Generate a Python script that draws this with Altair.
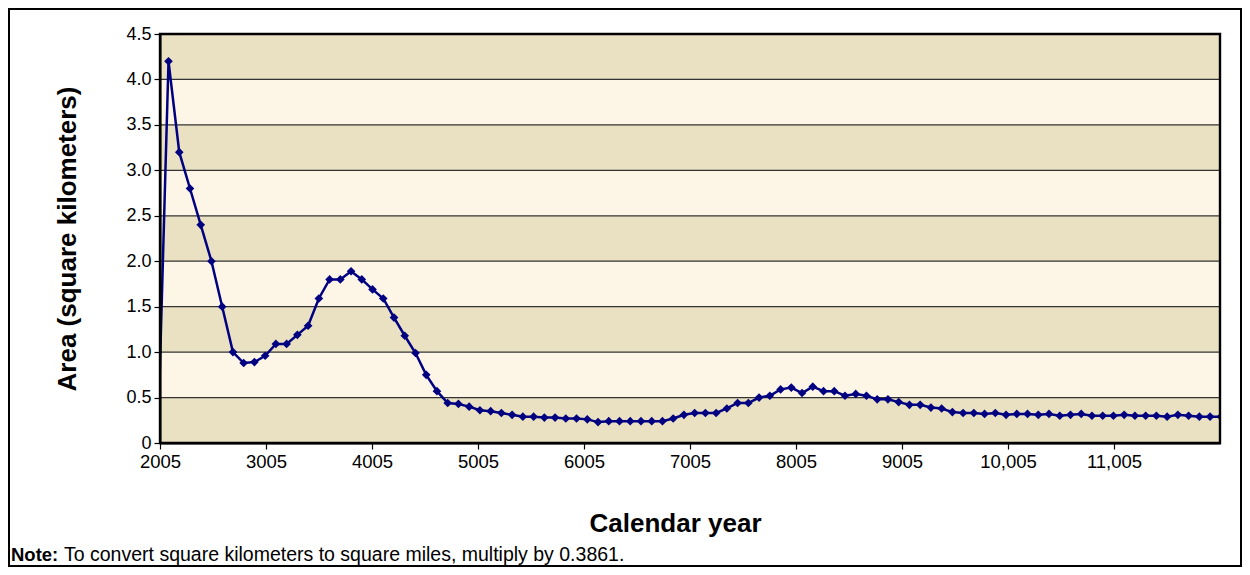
import altair as alt
import pandas as pd

# ---- data ----
area_km2 = [0.0, 4.2, 3.2, 2.8, 2.4, 2.0, 1.5, 1.0, 0.88, 0.89,
            0.96, 1.09, 1.09, 1.19, 1.29, 1.59, 1.80, 1.80, 1.89, 1.80,
            1.69, 1.59, 1.38, 1.18, 0.99, 0.75, 0.57, 0.44, 0.43, 0.40,
            0.36, 0.35, 0.33, 0.31, 0.29, 0.29, 0.28, 0.28, 0.27, 0.27,
            0.26, 0.23, 0.24, 0.24, 0.24, 0.24, 0.24, 0.24, 0.27, 0.31,
            0.33, 0.33, 0.33, 0.38, 0.44, 0.44, 0.50, 0.52, 0.59, 0.61,
            0.55, 0.62, 0.57, 0.57, 0.52, 0.54, 0.52, 0.48, 0.48, 0.45,
            0.42, 0.42, 0.39, 0.38, 0.34, 0.33, 0.33, 0.32, 0.33, 0.31,
            0.32, 0.32, 0.31, 0.32, 0.30, 0.31, 0.32, 0.30, 0.30, 0.30,
            0.31, 0.30, 0.30, 0.30, 0.29, 0.31, 0.30, 0.29, 0.29, 0.29]
year_start = 1984
year_step = 101.3
years = [year_start + year_step * i for i in range(len(area_km2))]

x_tick_years = [2005, 3005, 4005, 5005, 6005, 7005, 8005, 9005, 10005, 11005]
y_ticks = [0, 0.5, 1.0, 1.5, 2.0, 2.5, 3.0, 3.5, 4.0, 4.5]
band_lo = [0.0, 0.5, 1.0, 1.5, 2.0, 2.5, 3.0, 3.5, 4.0]
band_hi = [0.5, 1.0, 1.5, 2.0, 2.5, 3.0, 3.5, 4.0, 4.5]
band_colors = ["#E9E1C1", "#FDF6E7", "#E9E1C1", "#FDF6E7", "#E9E1C1",
               "#FDF6E7", "#E9E1C1", "#FDF6E7", "#E9E1C1"]

x_title = "Calendar year"
y_title = "Area (square kilometers)"
note_bold = "Note:"
note_text = "To convert square kilometers to square miles, multiply by 0.3861."

# ---- layout (canvas kept within 1234 x 559 so the page does not overflow) ----
W, H = 1060, 409
PAD = {"left": 152, "top": 26, "right": 22, "bottom": 124}
FONT = "Liberation Sans"
NAVY = "#000080"

series = pd.DataFrame({"year": years, "area": area_km2})
bands = pd.DataFrame({"lo": band_lo, "hi": band_hi, "color": band_colors})
grid = pd.DataFrame({"v": y_ticks[1:]})
one = pd.DataFrame({"k": [0]})

yscale = alt.Scale(domain=[0, 4.5], nice=False, zero=False)
xscale = alt.Scale(domain=[2005, 12005], nice=False, zero=False)

yaxis = alt.Axis(
    values=y_ticks,
    labelExpr="datum.value == 0 ? '0' : format(datum.value, '.1f')",
    grid=False, domainColor="black", domainWidth=2,
    tickColor="black", tickSize=6, tickWidth=1.2,
    labelFont=FONT, labelFontSize=18, labelColor="black", labelPadding=3,
    labelFlush=False,
    title=y_title, titleFont=FONT, titleFontSize=26, titleFontWeight="bold",
    titleColor="black", titleX=-93, titleY=H / 2, titleAngle=270,
    titleAlign="center", titleBaseline="middle", zindex=1,
)
xaxis = alt.Axis(
    values=x_tick_years,
    labelExpr="datum.value >= 10000 ? format(datum.value, ',') : format(datum.value, 'd')",
    grid=False, domainColor="black", domainWidth=2,
    tickColor="black", tickSize=6, tickWidth=1.2,
    labelFont=FONT, labelFontSize=18.5, labelColor="black", labelPadding=3,
    labelFlush=False,
    title=x_title, titleFont=FONT, titleFontSize=26, titleFontWeight="bold",
    titleColor="black", titleX=515, titleY=88, titleAlign="center",
    titleBaseline="alphabetic", zindex=1,
)

band_layer = alt.Chart(bands).mark_rect().encode(
    x=alt.value(0), x2=alt.value(W),
    y=alt.Y("lo:Q", scale=yscale, axis=yaxis), y2="hi:Q",
    color=alt.Color("color:N", scale=None),
)

grid_layer = alt.Chart(grid).mark_rule(color="#333333", strokeWidth=1.3).encode(
    y=alt.Y("v:Q", scale=yscale), x=alt.value(0), x2=alt.value(W),
)

line_layer = alt.Chart(series).mark_line(color=NAVY, strokeWidth=2.5, clip=True).encode(
    x=alt.X("year:Q", scale=xscale, axis=xaxis),
    y=alt.Y("area:Q", scale=yscale),
)

point_layer = alt.Chart(series).mark_point(
    shape="diamond", size=75, filled=True, color=NAVY, opacity=1, clip=True
).encode(
    x=alt.X("year:Q", scale=xscale),
    y=alt.Y("area:Q", scale=yscale),
)

frame_layer = alt.Chart(one).mark_rect(
    filled=False, stroke="black", strokeWidth=2.4, fill=None
).encode(
    x=alt.value(0), x2=alt.value(W), y=alt.value(0), y2=alt.value(H),
)

border_layer = alt.Chart(one).mark_rect(
    filled=False, stroke="black", strokeWidth=2, fill=None
).encode(
    x=alt.value(-151), x2=alt.value(W + 21), y=alt.value(-25), y2=alt.value(H + 123),
)

note_b = alt.Chart(one).mark_text(
    text=note_bold, font=FONT, fontSize=18.5, fontWeight="bold",
    align="left", baseline="alphabetic", color="black"
).encode(x=alt.value(-149), y=alt.value(527))

note_n = alt.Chart(one).mark_text(
    text=note_text, font=FONT, fontSize=19.5,
    align="left", baseline="alphabetic", color="black"
).encode(x=alt.value(-96), y=alt.value(527))

chart = alt.layer(
    band_layer, grid_layer, line_layer, point_layer, frame_layer,
    border_layer, note_b, note_n
).properties(
    width=W, height=H, padding=PAD,
    autosize=alt.AutoSizeParams(type="none"),
    background="white",
).configure_view(strokeWidth=0)

chart.save("out.html", embed_options={"renderer": "svg", "actions": False})
